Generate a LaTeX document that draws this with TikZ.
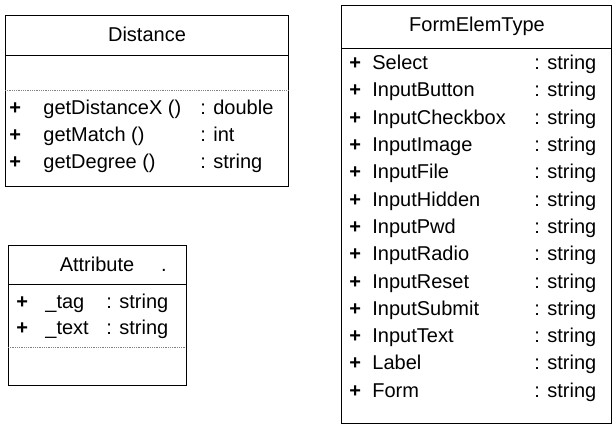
\documentclass[tikz,border=0pt]{standalone}
\usepackage{fontspec}
\setmainfont{Liberation Sans}
\begin{document}
\begin{tikzpicture}[x=1pt, y=-1pt, line width=0.8pt,
    font=\fontsize{20}{24}\selectfont,
    txt/.style={inner sep=0pt, anchor=mid west},
    plus/.style={txt, font=\fontsize{20}{24}\selectfont\bfseries},
    emptysep/.style={gray, densely dotted}]
    \useasboundingbox (0,0) rectangle (612,433);

    % 1. Class Distance
    \draw (5,15) rectangle (288,186);
    \draw (5,55) -- (288,55);
    \draw[emptysep] (5,90) -- (288,90);
    \node (distTitle) at (147,34) {Distance};
    \node[plus] (distP1) at (9,112) {+};
    \node[txt] (distN1) at (43,112) {getDistanceX ()};
    \node[txt] (distT1) at (200,112) {: double};
    \node[plus] (distP2) at (9,139) {+};
    \node[txt] (distN2) at (43,139) {getMatch ()};
    \node[txt] (distT2) at (200,139) {: int};
    \node[plus] (distP3) at (9,166) {+};
    \node[txt] (distN3) at (43,166) {getDegree ()};
    \node[txt] (distT3) at (200,166) {: string};

    % 2. Class Attribute
    \draw (8,245) rectangle (186,385);
    \draw (8,284) -- (186,284);
    \draw[emptysep] (8,347) -- (186,347);
    \node (attrTitle) at (97,264) {Attribute};
    \node[inner sep=0pt, anchor=base] (attrDot) at (164,271) {.};
    \node[plus] (attrP1) at (16,306) {+};
    \node[txt] (attrN1) at (45,306) {\_tag};
    \node[txt] (attrT1) at (106,306) {: string};
    \node[plus] (attrP2) at (16,332) {+};
    \node[txt] (attrN2) at (45,332) {\_text};
    \node[txt] (attrT2) at (106,332) {: string};

    % 3. Class FormElemType
    \draw (341,5) rectangle (611,423);
    \draw (341,48) -- (611,48);
    \node (feTitle) at (477,26) {FormElemType};
    \foreach \nm [count=\i] in {Select, InputButton, InputCheckbox, InputImage,
        InputFile, InputHidden, InputPwd, InputRadio, InputReset, InputSubmit,
        InputText, Label, Form} {
        \node[plus] (feP\i) at (349,{67+27.3*(\i-1)}) {+};
        \node[txt] (feN\i) at (372,{67+27.3*(\i-1)}) {\nm};
        \node[txt] (feT\i) at (534,{67+27.3*(\i-1)}) {: string};
    }
\end{tikzpicture}
\end{document}
